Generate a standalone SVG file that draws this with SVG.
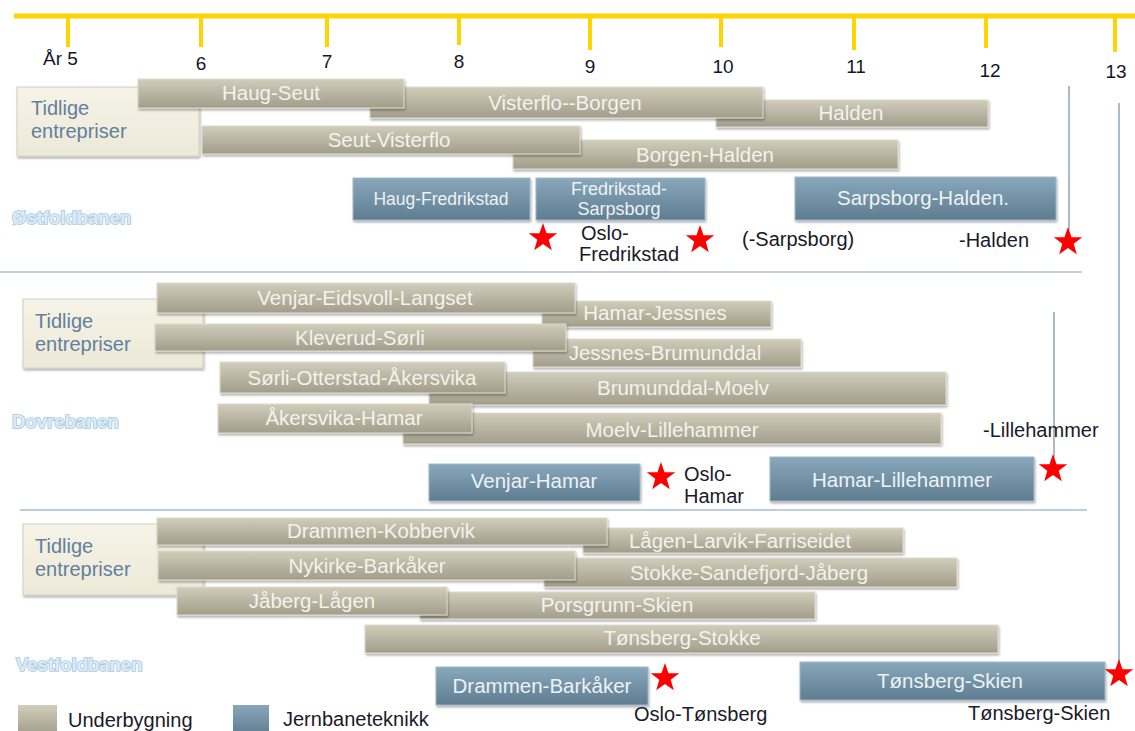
<svg xmlns="http://www.w3.org/2000/svg" width="1135" height="731" viewBox="0 0 1135 731">
<style>
.ub{fill:url(#gUb);stroke:#dedacb;stroke-width:1;filter:url(#sh)}
.jt{fill:url(#gJt);stroke:#9fb7c7;stroke-width:1;filter:url(#sh)}
.tid{fill:url(#gTid);stroke:#d3cebd;stroke-width:1;filter:url(#sh)}
.lb{font-family:"Liberation Sans",Arial,sans-serif;font-size:20.5px;fill:#f4f2ec;text-anchor:middle}
.lj{font-family:"Liberation Sans",Arial,sans-serif;font-size:20.5px;fill:#edf2f5;text-anchor:middle}
.tx{font-family:"Liberation Sans",Arial,sans-serif;font-size:20px;fill:#1a1a2a}
.ax{font-family:"Liberation Sans",Arial,sans-serif;font-size:19px;fill:#15152a;text-anchor:middle}
.tt{font-family:"Liberation Sans",Arial,sans-serif;font-size:20px;fill:#62809b}
.sec{font-family:"Liberation Sans",Arial,sans-serif;font-size:18.5px;font-weight:bold;fill:#dcebf6;stroke:#a6c8e3;stroke-width:1.6;paint-order:stroke}
.star{fill:#ff0000}
.vl{stroke:#8ea6ba;stroke-width:1.5;fill:none}
.sep{stroke:#a9bece;stroke-width:1.5;fill:none}
.tick{stroke:#ffd400;stroke-width:4}
</style>
<defs>
<linearGradient id="gUb" x1="0" y1="0" x2="0" y2="1">
<stop offset="0" stop-color="#d1cdbb"/>
<stop offset="1" stop-color="#a29d8a"/>
</linearGradient>
<linearGradient id="gJt" x1="0" y1="0" x2="0" y2="1">
<stop offset="0" stop-color="#89a8bc"/>
<stop offset="1" stop-color="#5f7c90"/>
</linearGradient>
<linearGradient id="gTid" x1="0" y1="0" x2="0" y2="1">
<stop offset="0" stop-color="#f6f3e8"/>
<stop offset="1" stop-color="#ede9d8"/>
</linearGradient>
<filter id="sh" x="-5%" y="-20%" width="110%" height="150%">
<feDropShadow dx="1" dy="2" stdDeviation="1.2" flood-color="#000" flood-opacity="0.3"/>
</filter>
<path id="star" d="M0,-15 L3.53,-4.85 L14.27,-4.64 L5.71,1.85 L8.82,12.14 L0,6 L-8.82,12.14 L-5.71,1.85 L-14.27,-4.64 L-3.53,-4.85 Z"/>
</defs>
<rect width="1135" height="731" fill="#ffffff"/>

<g id="axis">
<line x1="14" y1="16" x2="1135" y2="16" stroke="#ffd400" stroke-width="5"/>
<line class="tick" x1="68" y1="16" x2="68" y2="47"/>
<line class="tick" x1="201" y1="16" x2="201" y2="47"/>
<line class="tick" x1="327" y1="16" x2="327" y2="47"/>
<line class="tick" x1="459" y1="16" x2="459" y2="45"/>
<line class="tick" x1="590" y1="16" x2="590" y2="50"/>
<line class="tick" x1="721" y1="16" x2="721" y2="47"/>
<line class="tick" x1="854" y1="16" x2="854" y2="50"/>
<line class="tick" x1="986" y1="16" x2="986" y2="48"/>
<line class="tick" x1="1115" y1="16" x2="1115" y2="52"/>
<text class="ax" x="43" y="65" style="text-anchor:start">År 5</text>
<text class="ax" x="201" y="70">6</text>
<text class="ax" x="327" y="68">7</text>
<text class="ax" x="459" y="68">8</text>
<text class="ax" x="590" y="73">9</text>
<text class="ax" x="723" y="73">10</text>
<text class="ax" x="856" y="73">11</text>
<text class="ax" x="990" y="77">12</text>
<text class="ax" x="1116" y="78">13</text>
</g>

<g id="separators">
<line class="sep" x1="0" y1="272" x2="1082" y2="272"/>
<line class="sep" x1="20" y1="510" x2="1087" y2="510"/>
</g>

<g id="connectors">
<line class="vl" x1="1069" y1="86" x2="1069" y2="230"/>
<line class="vl" x1="1054" y1="312" x2="1054" y2="458"/>
<line class="vl" x1="1119" y1="103" x2="1119" y2="664"/>
</g>

<!-- Østfoldbanen -->
<g id="ostfold-tidlige"><rect class="tid" x="17" y="87" width="182" height="69"/><text class="tt" x="31" y="115">Tidlige</text><text class="tt" x="31" y="138">entrepriser</text></g>
<g id="halden"><rect class="ub" x="716" y="100" width="272" height="27"/><text class="lb" x="851" y="120">Halden</text></g>
<g id="visterflo-borgen"><rect class="ub" x="370" y="87" width="393" height="31"/><text class="lb" x="565" y="110">Visterflo--Borgen</text></g>
<g id="haug-seut"><rect class="ub" x="138" y="79" width="266" height="29"/><text class="lb" x="271" y="100">Haug-Seut</text></g>
<g id="borgen-halden"><rect class="ub" x="513" y="140" width="385" height="29"/><text class="lb" x="705" y="162">Borgen-Halden</text></g>
<g id="seut-visterflo"><rect class="ub" x="202" y="126" width="378" height="28"/><text class="lb" x="389" y="147">Seut-Visterflo</text></g>
<g id="haug-fredrikstad"><rect class="jt" x="353" y="178" width="177" height="42"/><text class="lj" x="441" y="205" style="font-size:17.5px">Haug-Fredrikstad</text></g>
<g id="fredrikstad-sarpsborg"><rect class="jt" x="536" y="178" width="169" height="42"/><text class="lj" x="619" y="195" style="font-size:18px">Fredrikstad-</text><text class="lj" x="619" y="215" style="font-size:18px">Sarpsborg</text></g>
<g id="sarpsborg-halden"><rect class="jt" x="795" y="177" width="261" height="43"/><text class="lj" x="923" y="205">Sarpsborg-Halden.</text></g>
<g id="ostfold-milestones">
<use href="#star" class="star" x="543" y="238"/>
<use href="#star" class="star" x="700" y="240"/>
<use href="#star" class="star" x="1068" y="242"/>
<text class="tx" x="581" y="240">Oslo-</text>
<text class="tx" x="579" y="261">Fredrikstad</text>
<text class="tx" x="742" y="246">(-Sarpsborg)</text>
<text class="tx" x="959" y="247">-Halden</text>
</g>
<g id="ostfold-label"><text class="sec" x="12" y="224">Østfoldbanen</text></g>

<!-- Dovrebanen -->
<g id="dovre-tidlige"><rect class="tid" x="23" y="299" width="180" height="69"/><text class="tt" x="35" y="328">Tidlige</text><text class="tt" x="35" y="351">entrepriser</text></g>
<g id="hamar-jessnes"><rect class="ub" x="542" y="301" width="229" height="26"/><text class="lb" x="655" y="320">Hamar-Jessnes</text></g>
<g id="venjar-eidsvoll-langset"><rect class="ub" x="157" y="283" width="418" height="30"/><text class="lb" x="365" y="305">Venjar-Eidsvoll-Langset</text></g>
<g id="jessnes-brumunddal"><rect class="ub" x="533" y="339" width="268" height="28"/><text class="lb" x="665" y="360">Jessnes-Brumunddal</text></g>
<g id="kleverud-sorli"><rect class="ub" x="155" y="324" width="411" height="27"/><text class="lb" x="360" y="345">Kleverud-Sørli</text></g>
<g id="brumunddal-moelv"><rect class="ub" x="429" y="372" width="517" height="33"/><text class="lb" x="683" y="395">Brumunddal-Moelv</text></g>
<g id="sorli-otterstad-akersvika"><rect class="ub" x="220" y="362" width="285" height="31"/><text class="lb" x="362" y="385">Sørli-Otterstad-Åkersvika</text></g>
<g id="moelv-lillehammer"><rect class="ub" x="403" y="413" width="538" height="31"/><text class="lb" x="672" y="437">Moelv-Lillehammer</text></g>
<g id="akersvika-hamar"><rect class="ub" x="218" y="404" width="254" height="29"/><text class="lb" x="344" y="425">Åkersvika-Hamar</text></g>
<g id="venjar-hamar"><rect class="jt" x="429" y="464" width="211" height="37"/><text class="lj" x="534" y="488">Venjar-Hamar</text></g>
<g id="hamar-lillehammer"><rect class="jt" x="770" y="457" width="264" height="44"/><text class="lj" x="902" y="487">Hamar-Lillehammer</text></g>
<g id="dovre-milestones">
<use href="#star" class="star" x="661" y="477"/>
<use href="#star" class="star" x="1053" y="469"/>
<text class="tx" x="684" y="481">Oslo-</text>
<text class="tx" x="684" y="503">Hamar</text>
<text class="tx" x="983" y="437">-Lillehammer</text>
</g>
<g id="dovre-label"><text class="sec" x="12" y="428">Dovrebanen</text></g>

<!-- Vestfoldbanen -->
<g id="vestfold-tidlige"><rect class="tid" x="23" y="524" width="180" height="71"/><text class="tt" x="35" y="553">Tidlige</text><text class="tt" x="35" y="576">entrepriser</text></g>
<g id="lagen-larvik-farriseidet"><rect class="ub" x="583" y="528" width="320" height="25"/><text class="lb" x="740" y="548">Lågen-Larvik-Farriseidet</text></g>
<g id="drammen-kobbervik"><rect class="ub" x="157" y="518" width="450" height="27"/><text class="lb" x="381" y="538">Drammen-Kobbervik</text></g>
<g id="stokke-sandefjord-jaberg"><rect class="ub" x="544" y="558" width="413" height="29"/><text class="lb" x="749" y="580">Stokke-Sandefjord-Jåberg</text></g>
<g id="nykirke-barkaker"><rect class="ub" x="158" y="551" width="417" height="29"/><text class="lb" x="367" y="573">Nykirke-Barkåker</text></g>
<g id="porsgrunn-skien"><rect class="ub" x="420" y="592" width="395" height="27"/><text class="lb" x="617" y="612">Porsgrunn-Skien</text></g>
<g id="jaberg-lagen"><rect class="ub" x="177" y="587" width="270" height="28"/><text class="lb" x="312" y="608">Jåberg-Lågen</text></g>
<g id="tonsberg-stokke"><rect class="ub" x="365" y="625" width="633" height="28"/><text class="lb" x="682" y="645">Tønsberg-Stokke</text></g>
<g id="drammen-barkaker"><rect class="jt" x="436" y="667" width="212" height="38"/><text class="lj" x="542" y="693">Drammen-Barkåker</text></g>
<g id="tonsberg-skien"><rect class="jt" x="800" y="662" width="305" height="38"/><text class="lj" x="950" y="688">Tønsberg-Skien</text></g>
<g id="vestfold-milestones">
<use href="#star" class="star" x="665" y="678"/>
<use href="#star" class="star" x="1119" y="674"/>
<text class="tx" x="634" y="721">Oslo-Tønsberg</text>
<text class="tx" x="968" y="720">Tønsberg-Skien</text>
</g>
<g id="vestfold-label"><text class="sec" x="16" y="671">Vestfoldbanen</text></g>

<!-- Legend -->
<g id="legend-underbygning"><rect x="18" y="705" width="39" height="30" fill="url(#gUb)"/><text class="tx" x="68" y="727">Underbygning</text></g>
<g id="legend-jernbaneteknikk"><rect x="233" y="705" width="36" height="30" fill="url(#gJt)"/><text class="tx" x="283" y="726">Jernbaneteknikk</text></g>
</svg>
